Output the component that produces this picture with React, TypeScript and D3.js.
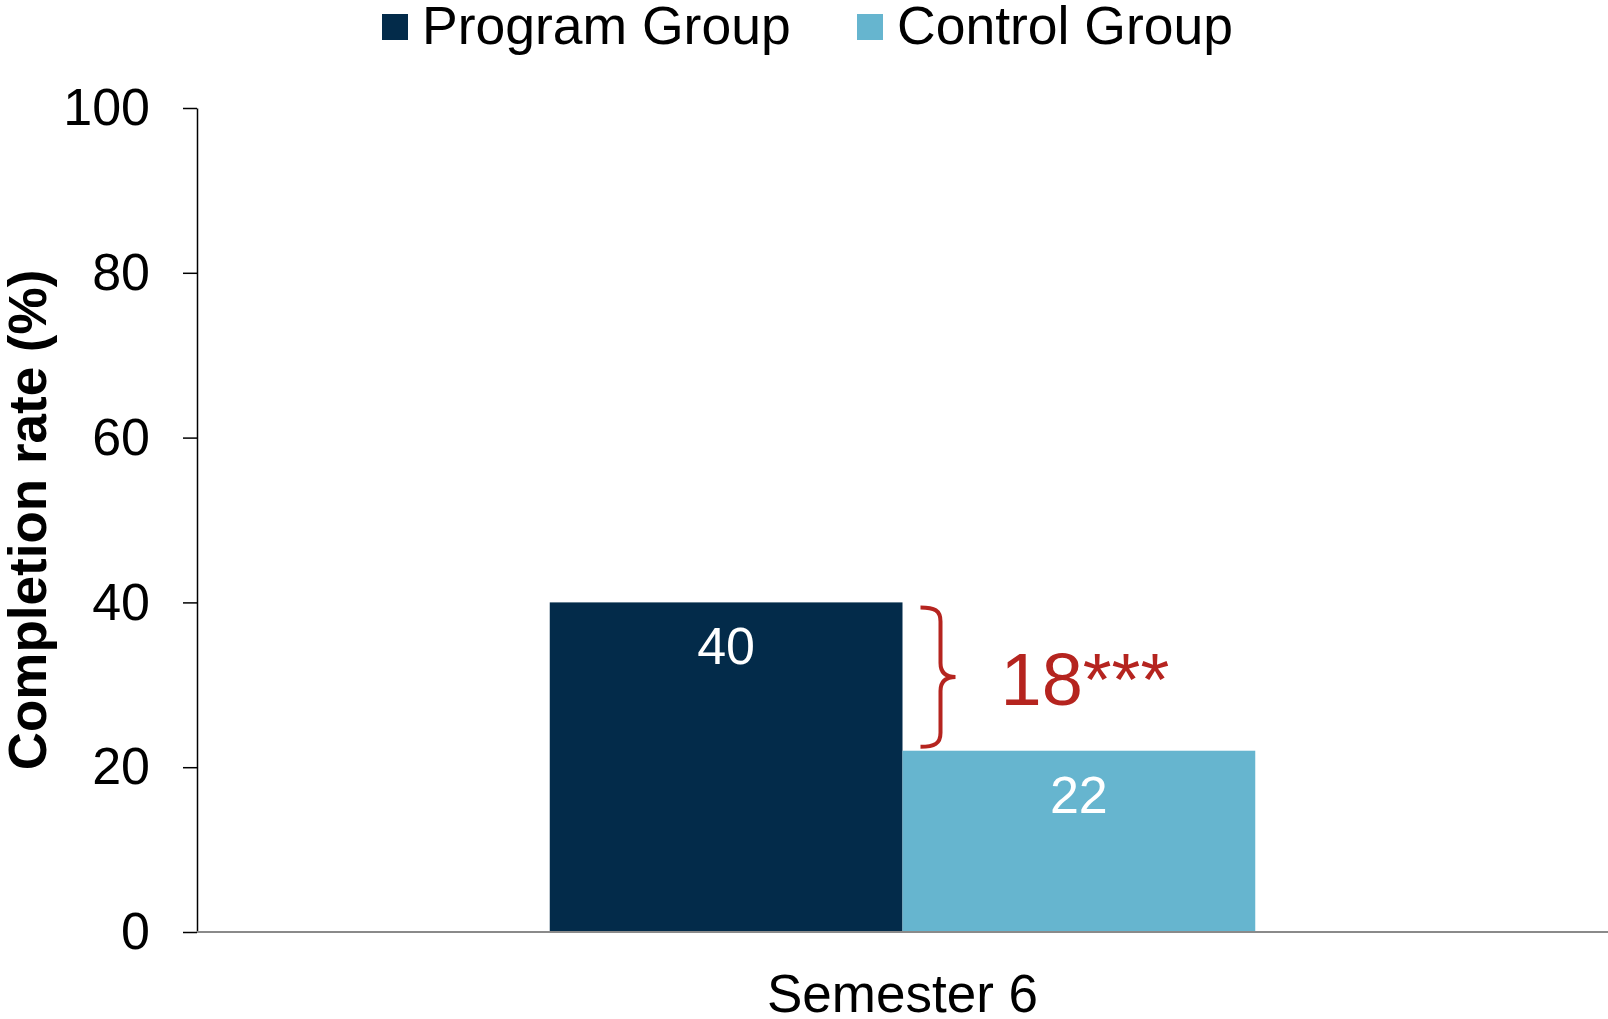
import React, { useEffect, useRef } from "react";
import * as d3 from "d3";

const categories = ["Semester 6"];
const groups = ["Program Group", "Control Group"];
const programValues = [40];
const controlValues = [22];
const yTicks = [0, 20, 40, 60, 80, 100];
const impactLabels = ["18***"];

const colors: Record<string, string> = {
  "Program Group": "#032B4A",
  "Control Group": "#66B5CF",
};
const red = "#B5241F";
const font = "'Liberation Sans', Arial, sans-serif";

const App: React.FC = () => {
  const svgRef = useRef<SVGSVGElement>(null);

  useEffect(() => {
    const w = 1608;
    const h = 1019;
    const left = 197;
    const top = 108;
    const bottom = 932;

    const svg = d3
      .select(svgRef.current)
      .attr("width", w)
      .attr("height", h)
      .style("font-family", font);

    const yScale = d3.scaleLinear().domain([0, 100]).range([bottom, top]);
    const x0 = d3
      .scaleBand()
      .domain(categories)
      .range([left, w])
      .padding(0);
    const x1 = d3
      .scaleBand()
      .domain(groups)
      .range([0, x0.bandwidth()])
      .paddingInner(0)
      .paddingOuter(1);

    // y axis
    const yAxis = d3
      .axisLeft(yScale)
      .tickValues(yTicks)
      .tickSize(14)
      .tickSizeOuter(0)
      .tickPadding(33)
      .tickFormat((d) => String(d));
    const gy = svg
      .append("g")
      .attr("transform", `translate(${left},0)`)
      .call(yAxis);
    gy.select(".domain").attr("stroke", "#000").attr("stroke-width", 1.5);
    gy.selectAll(".tick line").attr("stroke", "#000").attr("stroke-width", 1.5);
    gy.selectAll(".tick text")
      .attr("fill", "#000")
      .style("font-size", "52px")
      .style("font-family", font);

    // rows of data
    const rows = categories.map((c, i) => ({
      cat: c,
      vals: [
        { key: groups[0], value: programValues[i] },
        { key: groups[1], value: controlValues[i] },
      ],
      label: impactLabels[i],
    }));

    const catG = svg
      .selectAll("g.cat")
      .data(rows)
      .enter()
      .append("g")
      .attr("class", "cat")
      .attr("transform", (d) => `translate(${x0(d.cat)},0)`);

    catG
      .selectAll("rect")
      .data((d) => d.vals)
      .enter()
      .append("rect")
      .attr("x", (d) => x1(d.key)!)
      .attr("y", (d) => yScale(d.value))
      .attr("width", x1.bandwidth())
      .attr("height", (d) => yScale(0) - yScale(d.value))
      .attr("fill", (d) => colors[d.key]);

    catG
      .selectAll("text.val")
      .data((d) => d.vals)
      .enter()
      .append("text")
      .attr("class", "val")
      .attr("x", (d) => x1(d.key)! + x1.bandwidth() / 2)
      .attr("y", (d) => yScale(d.value) + 62)
      .attr("text-anchor", "middle")
      .attr("fill", "#fff")
      .style("font-size", "52px")
      .text((d) => String(d.value));

    // brace + impact label
    catG.each(function (d) {
      const g = d3.select(this);
      const hi = yScale(d.vals[0].value) + 5;
      const lo = yScale(d.vals[1].value) - 4;
      const mid = (hi + lo) / 2;
      const bx = x1(groups[1])! + 18;
      const path = d3.path();
      path.moveTo(bx, hi);
      path.bezierCurveTo(bx + 14, hi, bx + 20, hi + 3, bx + 20, hi + 14);
      path.lineTo(bx + 20, mid - 14);
      path.bezierCurveTo(bx + 20, mid - 4, bx + 26, mid, bx + 35, mid);
      path.bezierCurveTo(bx + 26, mid, bx + 20, mid + 4, bx + 20, mid + 14);
      path.lineTo(bx + 20, lo - 14);
      path.bezierCurveTo(bx + 20, lo - 3, bx + 14, lo, bx, lo);
      g.append("path")
        .attr("d", path.toString())
        .attr("fill", "none")
        .attr("stroke", red)
        .attr("stroke-width", 4);
      g.append("text")
        .attr("x", bx + 80)
        .attr("y", mid + 28)
        .attr("fill", red)
        .style("font-size", "74px")
        .text(d.label);
    });

    // baseline
    svg
      .append("line")
      .attr("x1", left)
      .attr("x2", w)
      .attr("y1", yScale(0))
      .attr("y2", yScale(0))
      .attr("stroke", "#8a8a8a")
      .attr("stroke-width", 2);

    // x axis labels
    const xAxis = d3.axisBottom(x0).tickSize(0).tickPadding(42);
    const gx = svg
      .append("g")
      .attr("transform", `translate(0,${bottom})`)
      .call(xAxis);
    gx.select(".domain").remove();
    gx.selectAll(".tick text")
      .attr("fill", "#000")
      .style("font-size", "53px")
      .style("font-family", font);

    // y title
    svg
      .append("text")
      .attr("transform", `translate(46,520) rotate(-90)`)
      .attr("text-anchor", "middle")
      .attr("fill", "#000")
      .style("font-size", "53px")
      .style("font-weight", "bold")
      .text("Completion rate (%)");

    // legend
    const legendX = [382, 857];
    const lg = svg
      .selectAll("g.legend")
      .data(groups)
      .enter()
      .append("g")
      .attr("class", "legend")
      .attr("transform", (_d, i) => `translate(${legendX[i]},0)`);
    lg.append("rect")
      .attr("x", 0)
      .attr("y", 14)
      .attr("width", 26)
      .attr("height", 26)
      .attr("fill", (d) => colors[d]);
    lg.append("text")
      .attr("x", 40)
      .attr("y", 44)
      .attr("fill", "#000")
      .style("font-size", "53.5px")
      .text((d) => d);

    return () => {
      svg.selectAll("*").remove();
    };
  }, []);

  return (
    <div style={{ position: "absolute", left: 0, top: 0 }}>
      <svg ref={svgRef} style={{ display: "block" }} />
    </div>
  );
};

export default App;
